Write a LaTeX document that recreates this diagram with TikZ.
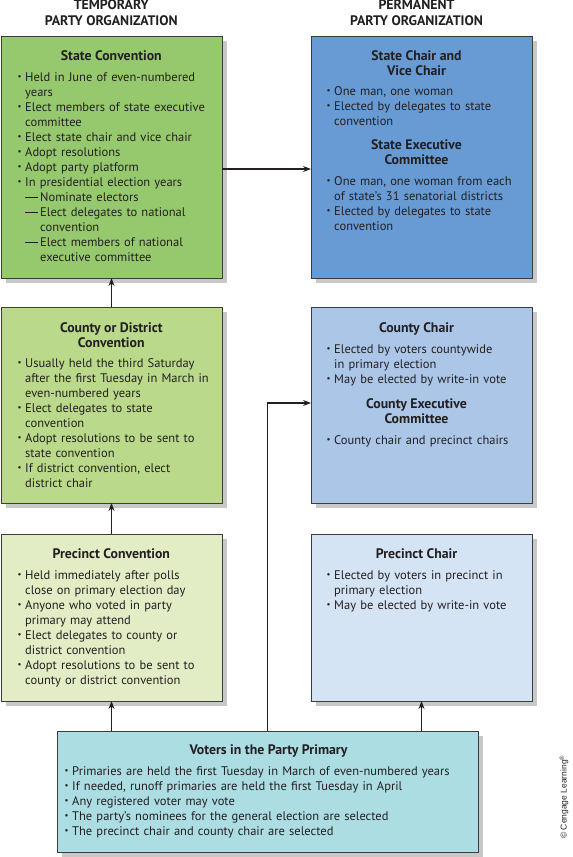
\documentclass[tikz,border=0pt]{standalone}
\usepackage{fontspec}
\setmainfont{PT Sans}
\newfontfamily\copyfam{Liberation Sans}
\usepackage{graphicx}
\usetikzlibrary{shadows,arrows.meta}
\definecolor{scfill}{HTML}{96C96E}
\definecolor{ccfill}{HTML}{BBD98A}
\definecolor{pcfill}{HTML}{E2ECC5}
\definecolor{schfill}{HTML}{689BD4}
\definecolor{cchfill}{HTML}{ACC6E8}
\definecolor{pchfill}{HTML}{D5E4F5}
\definecolor{vpfill}{HTML}{ACDDE3}
\definecolor{shadowgray}{HTML}{C8C8C8}
\definecolor{bordergray}{HTML}{3C3C3C}
\definecolor{inkc}{HTML}{231F20}
\newcommand\bodyfont{\fontsize{12.5}{15}\selectfont}
\newcommand\ttlfont{\fontsize{13.8}{15}\selectfont\bfseries}
\newcommand\bul{\raisebox{0.2ex}{\scalebox{0.7}{•}}}
\newcommand\bi[1]{\noindent\llap{\bul\hspace{3.5pt}}\strut#1\par}
\newcommand\di[1]{{\let\\\newline\noindent\hangindent=15pt\hangafter=1\strut\rule[0.3em]{13pt}{0.7pt}\hspace{2pt}#1\par}}
\begin{document}
\begin{tikzpicture}[x=1pt,y=-1pt,
  orgbox/.style={draw=bordergray, line width=0.8pt, anchor=north west, inner sep=0pt, outer sep=0pt,
     drop shadow={shadow xshift=5pt, shadow yshift=-5pt, fill=shadowgray, opacity=1}},
  bodytxt/.style={anchor=north west, inner sep=0pt, text width=430pt, font=\bodyfont, text=inkc,
     execute at begin node={\parskip=0pt\parindent=0pt\raggedright}},
  ttl/.style={anchor=north, inner sep=0pt, align=center, font=\ttlfont, text=inkc},
  hdr/.style={anchor=north, inner sep=0pt, align=center, font=\fontsize{13.8}{16.5}\selectfont\bfseries, text=inkc},
  arr/.style={draw=inkc, line width=1.1pt, -{Stealth[length=8pt,width=6pt]}}
]
\useasboundingbox (0,0) rectangle (573,857);

% headers
\node[hdr] (htemp) at (111.3,-2.5) {\strut TEMPORARY\\PARTY ORGANIZATION};
\node[hdr] (hperm) at (416.5,-2.5) {\strut PERMANENT\\PARTY ORGANIZATION};

% boxes
\node[orgbox, fill=scfill, minimum width=221pt, minimum height=242pt] (sc) at (1,36) {};
\node[orgbox, fill=ccfill, minimum width=221pt, minimum height=196pt] (cc) at (1,307) {};
\node[orgbox, fill=pcfill, minimum width=221pt, minimum height=167pt] (pc) at (1,534) {};
\node[orgbox, fill=schfill, minimum width=221pt, minimum height=242pt] (sch) at (311,36) {};
\node[orgbox, fill=cchfill, minimum width=221pt, minimum height=196pt] (cch) at (311,307) {};
\node[orgbox, fill=pchfill, minimum width=221pt, minimum height=167pt] (pch) at (311,534) {};
\node[orgbox, fill=vpfill, minimum width=421pt, minimum height=121pt] (vp) at (57,731) {};

% State Convention
\node[ttl] (sct) at (111.3,49.5) {\strut State Convention};
\node[bodytxt] (scb) at (25,70.5) {%
\bi{Held in June of even-numbered\\years}%
\bi{Elect members of state executive\\committee}%
\bi{Elect state chair and vice chair}%
\bi{Adopt resolutions}%
\bi{Adopt party platform}%
\bi{In presidential election years}%
\di{Nominate electors}%
\di{Elect delegates to national\\convention}%
\di{Elect members of national\\executive committee}};

% County or District Convention
\node[ttl] (cct) at (111.3,321.5) {\strut County or District\\Convention};
\node[bodytxt] (ccb) at (25,356.5) {%
\bi{Usually held the third Saturday\\after the first Tuesday in March in\\even-numbered years}%
\bi{Elect delegates to state\\convention}%
\bi{Adopt resolutions to be sent to\\state convention}%
\bi{If district convention, elect\\district chair}};

% Precinct Convention
\node[ttl] (pct) at (111.3,547.5) {\strut Precinct Convention};
\node[bodytxt] (pcb) at (25,568.5) {%
\bi{Held immediately after polls\\close on primary election day}%
\bi{Anyone who voted in party\\primary may attend}%
\bi{Elect delegates to county or\\district convention}%
\bi{Adopt resolutions to be sent to\\county or district convention}};

% State Chair and Vice Chair
\node[ttl] (scht) at (416.5,49.5) {\strut State Chair and\\Vice Chair};
\node[bodytxt] (schb) at (334,84.5) {%
\bi{One man, one woman}%
\bi{Elected by delegates to state\\convention}};
\node[ttl] (sect) at (416.5,138.5) {\strut State Executive\\Committee};
\node[bodytxt] (secb) at (334,174.5) {%
\bi{One man, one woman from each\\of state’s 31 senatorial districts}%
\bi{Elected by delegates to state\\convention}};

% County Chair
\node[ttl] (ccht) at (416.5,321.5) {\strut County Chair};
\node[bodytxt] (cchb) at (334,342.5) {%
\bi{Elected by voters countywide\\in primary election}%
\bi{May be elected by write-in vote}};
\node[ttl] (cect) at (416.5,397.5) {\strut County Executive\\Committee};
\node[bodytxt] (cecb) at (334,433.5) {%
\bi{County chair and precinct chairs}};

% Precinct Chair
\node[ttl] (pcht) at (416.5,547.5) {\strut Precinct Chair};
\node[bodytxt] (pchb) at (334,568.5) {%
\bi{Elected by voters in precinct in\\primary election}%
\bi{May be elected by write-in vote}};

% Voters
\node[ttl] (vpt) at (268.5,743.5) {\strut Voters in the Party Primary};
\node[bodytxt] (vpb) at (72,764.5) {%
\bi{Primaries are held the first Tuesday in March of even-numbered years}%
\bi{If needed, runoff primaries are held the first Tuesday in April}%
\bi{Any registered voter may vote}%
\bi{The party’s nominees for the general election are selected}%
\bi{The precinct chair and county chair are selected}};

% connectors
\draw[arr] ([yshift=-12pt]sc.east) -- ([yshift=-12pt]sch.west);
\draw[arr] (cc.north) -- (sc.south);
\draw[arr] (pc.north) -- (cc.south);
\draw[arr] (pc.south |- vp.north) -- (pc.south);
\draw[arr] (vp.north) |- ([yshift=2pt]cch.west);
\draw[arr] (pch.south |- vp.north) -- (pch.south);

% credit
\node[rotate=90, inner sep=0pt, font=\copyfam\fontsize{8.5}{10}\selectfont, text=inkc] (credit) at (564,797) {© Cengage Learning\textsuperscript{®}};
\end{tikzpicture}
\end{document}
